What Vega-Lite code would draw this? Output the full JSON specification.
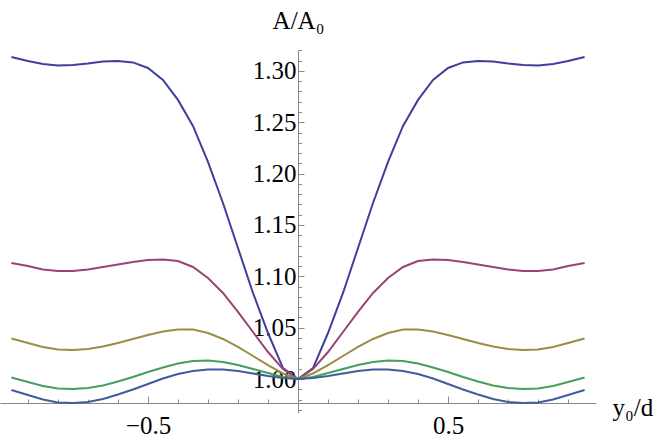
{
  "$schema": "https://vega.github.io/schema/vega-lite/v6.json",
  "width": 596,
  "height": 363,
  "autosize": {"type": "none"},
  "padding": {"left": 0, "top": 50, "right": 68, "bottom": 32},
  "background": "white",
  "config": {"view": {"stroke": null}, "axis": {"grid": false}},
  "data": {"values": [
    {"s":1,"x":-0.955,"y":1.3136},{"s":1,"x":-0.9,"y":1.3097},{"s":1,"x":-0.85,"y":1.3068},{"s":1,"x":-0.8,"y":1.3053},{"s":1,"x":-0.75,"y":1.3058},{"s":1,"x":-0.7,"y":1.3073},{"s":1,"x":-0.65,"y":1.3092},{"s":1,"x":-0.6,"y":1.3097},{"s":1,"x":-0.55,"y":1.3083},{"s":1,"x":-0.5,"y":1.3029},{"s":1,"x":-0.45,"y":1.2912},{"s":1,"x":-0.4,"y":1.2718},{"s":1,"x":-0.35,"y":1.2464},{"s":1,"x":-0.3,"y":1.2114},{"s":1,"x":-0.25,"y":1.1714},{"s":1,"x":-0.2,"y":1.1276},{"s":1,"x":-0.15,"y":1.0838},{"s":1,"x":-0.1,"y":1.0448},{"s":1,"x":-0.05,"y":1.0107},{"s":1,"x":0,"y":1.0},
    {"s":1,"x":0.05,"y":1.0107},{"s":1,"x":0.1,"y":1.0448},{"s":1,"x":0.15,"y":1.0838},{"s":1,"x":0.2,"y":1.1276},{"s":1,"x":0.25,"y":1.1714},{"s":1,"x":0.3,"y":1.2114},{"s":1,"x":0.35,"y":1.2464},{"s":1,"x":0.4,"y":1.2718},{"s":1,"x":0.45,"y":1.2912},{"s":1,"x":0.5,"y":1.3029},{"s":1,"x":0.55,"y":1.3083},{"s":1,"x":0.6,"y":1.3097},{"s":1,"x":0.65,"y":1.3092},{"s":1,"x":0.7,"y":1.3073},{"s":1,"x":0.75,"y":1.3058},{"s":1,"x":0.8,"y":1.3053},{"s":1,"x":0.85,"y":1.3068},{"s":1,"x":0.9,"y":1.3097},{"s":1,"x":0.955,"y":1.3136},
    {"s":2,"x":-0.955,"y":1.113},{"s":2,"x":-0.9,"y":1.1101},{"s":2,"x":-0.85,"y":1.1067},{"s":2,"x":-0.8,"y":1.1052},{"s":2,"x":-0.75,"y":1.1052},{"s":2,"x":-0.7,"y":1.1067},{"s":2,"x":-0.65,"y":1.1091},{"s":2,"x":-0.6,"y":1.1115},{"s":2,"x":-0.55,"y":1.114},{"s":2,"x":-0.5,"y":1.1159},{"s":2,"x":-0.45,"y":1.1164},{"s":2,"x":-0.4,"y":1.1149},{"s":2,"x":-0.35,"y":1.1091},{"s":2,"x":-0.3,"y":1.0984},{"s":2,"x":-0.25,"y":1.0838},{"s":2,"x":-0.2,"y":1.0653},{"s":2,"x":-0.15,"y":1.0458},{"s":2,"x":-0.1,"y":1.0263},{"s":2,"x":-0.05,"y":1.0097},{"s":2,"x":0,"y":1.0},
    {"s":2,"x":0.05,"y":1.0097},{"s":2,"x":0.1,"y":1.0263},{"s":2,"x":0.15,"y":1.0458},{"s":2,"x":0.2,"y":1.0653},{"s":2,"x":0.25,"y":1.0838},{"s":2,"x":0.3,"y":1.0984},{"s":2,"x":0.35,"y":1.1091},{"s":2,"x":0.4,"y":1.1149},{"s":2,"x":0.45,"y":1.1164},{"s":2,"x":0.5,"y":1.1159},{"s":2,"x":0.55,"y":1.114},{"s":2,"x":0.6,"y":1.1115},{"s":2,"x":0.65,"y":1.1091},{"s":2,"x":0.7,"y":1.1067},{"s":2,"x":0.75,"y":1.1052},{"s":2,"x":0.8,"y":1.1052},{"s":2,"x":0.85,"y":1.1067},{"s":2,"x":0.9,"y":1.1101},{"s":2,"x":0.955,"y":1.113},
    {"s":3,"x":-0.955,"y":1.0394},{"s":3,"x":-0.9,"y":1.0351},{"s":3,"x":-0.85,"y":1.0312},{"s":3,"x":-0.8,"y":1.0287},{"s":3,"x":-0.75,"y":1.0282},{"s":3,"x":-0.7,"y":1.0292},{"s":3,"x":-0.65,"y":1.0317},{"s":3,"x":-0.6,"y":1.0351},{"s":3,"x":-0.55,"y":1.039},{"s":3,"x":-0.5,"y":1.0429},{"s":3,"x":-0.45,"y":1.0463},{"s":3,"x":-0.4,"y":1.0482},{"s":3,"x":-0.35,"y":1.0482},{"s":3,"x":-0.3,"y":1.0448},{"s":3,"x":-0.25,"y":1.039},{"s":3,"x":-0.2,"y":1.0312},{"s":3,"x":-0.15,"y":1.0224},{"s":3,"x":-0.1,"y":1.0136},{"s":3,"x":-0.05,"y":1.0054},{"s":3,"x":0,"y":1.0},
    {"s":3,"x":0.05,"y":1.0054},{"s":3,"x":0.1,"y":1.0136},{"s":3,"x":0.15,"y":1.0224},{"s":3,"x":0.2,"y":1.0312},{"s":3,"x":0.25,"y":1.039},{"s":3,"x":0.3,"y":1.0448},{"s":3,"x":0.35,"y":1.0482},{"s":3,"x":0.4,"y":1.0482},{"s":3,"x":0.45,"y":1.0463},{"s":3,"x":0.5,"y":1.0429},{"s":3,"x":0.55,"y":1.039},{"s":3,"x":0.6,"y":1.0351},{"s":3,"x":0.65,"y":1.0317},{"s":3,"x":0.7,"y":1.0292},{"s":3,"x":0.75,"y":1.0282},{"s":3,"x":0.8,"y":1.0287},{"s":3,"x":0.85,"y":1.0312},{"s":3,"x":0.9,"y":1.0351},{"s":3,"x":0.955,"y":1.0394},
    {"s":4,"x":-0.955,"y":1.0015},{"s":4,"x":-0.9,"y":0.9971},{"s":4,"x":-0.85,"y":0.9932},{"s":4,"x":-0.8,"y":0.9907},{"s":4,"x":-0.75,"y":0.9903},{"s":4,"x":-0.7,"y":0.9912},{"s":4,"x":-0.65,"y":0.9937},{"s":4,"x":-0.6,"y":0.9976},{"s":4,"x":-0.55,"y":1.0019},{"s":4,"x":-0.5,"y":1.0068},{"s":4,"x":-0.45,"y":1.0112},{"s":4,"x":-0.4,"y":1.0151},{"s":4,"x":-0.35,"y":1.0175},{"s":4,"x":-0.3,"y":1.018},{"s":4,"x":-0.25,"y":1.0166},{"s":4,"x":-0.2,"y":1.0136},{"s":4,"x":-0.15,"y":1.0097},{"s":4,"x":-0.1,"y":1.0058},{"s":4,"x":-0.05,"y":1.0019},{"s":4,"x":0,"y":1.0},
    {"s":4,"x":0.05,"y":1.0019},{"s":4,"x":0.1,"y":1.0058},{"s":4,"x":0.15,"y":1.0097},{"s":4,"x":0.2,"y":1.0136},{"s":4,"x":0.25,"y":1.0166},{"s":4,"x":0.3,"y":1.018},{"s":4,"x":0.35,"y":1.0175},{"s":4,"x":0.4,"y":1.0151},{"s":4,"x":0.45,"y":1.0112},{"s":4,"x":0.5,"y":1.0068},{"s":4,"x":0.55,"y":1.0019},{"s":4,"x":0.6,"y":0.9976},{"s":4,"x":0.65,"y":0.9937},{"s":4,"x":0.7,"y":0.9912},{"s":4,"x":0.75,"y":0.9903},{"s":4,"x":0.8,"y":0.9907},{"s":4,"x":0.85,"y":0.9932},{"s":4,"x":0.9,"y":0.9971},{"s":4,"x":0.955,"y":1.0015},
    {"s":5,"x":-0.955,"y":0.9893},{"s":5,"x":-0.9,"y":0.9844},{"s":5,"x":-0.85,"y":0.98},{"s":5,"x":-0.8,"y":0.9771},{"s":5,"x":-0.75,"y":0.9766},{"s":5,"x":-0.7,"y":0.9776},{"s":5,"x":-0.65,"y":0.9805},{"s":5,"x":-0.6,"y":0.9849},{"s":5,"x":-0.55,"y":0.9898},{"s":5,"x":-0.5,"y":0.9951},{"s":5,"x":-0.45,"y":1.0005},{"s":5,"x":-0.4,"y":1.0049},{"s":5,"x":-0.35,"y":1.0078},{"s":5,"x":-0.3,"y":1.0093},{"s":5,"x":-0.25,"y":1.0093},{"s":5,"x":-0.2,"y":1.0078},{"s":5,"x":-0.15,"y":1.0054},{"s":5,"x":-0.1,"y":1.0029},{"s":5,"x":-0.05,"y":1.001},{"s":5,"x":0,"y":1.0},
    {"s":5,"x":0.05,"y":1.001},{"s":5,"x":0.1,"y":1.0029},{"s":5,"x":0.15,"y":1.0054},{"s":5,"x":0.2,"y":1.0078},{"s":5,"x":0.25,"y":1.0093},{"s":5,"x":0.3,"y":1.0093},{"s":5,"x":0.35,"y":1.0078},{"s":5,"x":0.4,"y":1.0049},{"s":5,"x":0.45,"y":1.0005},{"s":5,"x":0.5,"y":0.9951},{"s":5,"x":0.55,"y":0.9898},{"s":5,"x":0.6,"y":0.9849},{"s":5,"x":0.65,"y":0.9805},{"s":5,"x":0.7,"y":0.9776},{"s":5,"x":0.75,"y":0.9766},{"s":5,"x":0.8,"y":0.9771},{"s":5,"x":0.85,"y":0.98},{"s":5,"x":0.9,"y":0.9844},{"s":5,"x":0.955,"y":0.9893}
  ]},
  "mark": {"type": "line", "strokeWidth": 2, "clip": false},
  "encoding": {
    "x": {
      "field": "x", "type": "quantitative",
      "scale": {"domain": [-0.993, 0.993], "nice": false, "zero": false},
      "axis": {
        "orient": "bottom", "offset": -10,
        "values": [-0.9,-0.8,-0.7,-0.6,-0.5,-0.4,-0.3,-0.2,-0.1,0.1,0.2,0.3,0.4,0.5,0.6,0.7,0.8,0.9],
        "labelExpr": "abs(datum.value + 0.5) < 0.001 ? '−0.5' : (abs(datum.value - 0.5) < 0.001 ? '0.5' : '')",
        "tickSize": {"condition": {"test": "abs(abs(datum.value) - 0.5) < 0.001", "value": -7}, "value": -4},
        "tickColor": "#888888", "domainColor": "#888888", "tickWidth": 1, "domainWidth": 1,
        "labelFont": "Times New Roman, Liberation Serif, serif", "labelFontSize": 25, "labelColor": "black",
        "labelPadding": 17, "labelFlush": false, "labelOverlap": false,
        "title": "y₀/d", "titleX": 612, "titleY": 12, "titleAlign": "left", "titleBaseline": "alphabetic",
        "titleFont": "Times New Roman, Liberation Serif, serif", "titleFontSize": 25, "titleFontWeight": "normal", "titleColor": "black"
      }
    },
    "y": {
      "field": "y", "type": "quantitative",
      "scale": {"domain": [0.9669, 1.3204], "nice": false, "zero": false},
      "axis": {
        "orient": "left", "offset": -298,
        "values": [0.97,0.98,0.99,1.0,1.01,1.02,1.03,1.04,1.05,1.06,1.07,1.08,1.09,1.1,1.11,1.12,1.13,1.14,1.15,1.16,1.17,1.18,1.19,1.2,1.21,1.22,1.23,1.24,1.25,1.26,1.27,1.28,1.29,1.3,1.31,1.32],
        "labelExpr": "round(datum.value * 100) % 5 == 0 ? format(datum.value, '.2f') : ''",
        "tickSize": {"condition": {"test": "round(datum.value * 100) % 5 == 0", "value": -6}, "value": -3.5},
        "tickColor": "#888888", "domainColor": "#888888", "tickWidth": 1, "domainWidth": 1,
        "labelFont": "Times New Roman, Liberation Serif, serif", "labelFontSize": 25, "labelColor": "black",
        "labelPadding": 8, "labelFlush": false, "labelOverlap": false,
        "title": "A/A₀", "titleAngle": 0, "titleX": 0, "titleY": -22, "titleAlign": "center", "titleBaseline": "alphabetic",
        "titleFont": "Times New Roman, Liberation Serif, serif", "titleFontSize": 25, "titleFontWeight": "normal", "titleColor": "black"
      }
    },
    "color": {
      "field": "s", "type": "nominal",
      "scale": {"domain": [1, 2, 3, 4, 5], "range": ["#3f3f9c", "#9b4275", "#9b8d42", "#43a05a", "#3f5c9c"]},
      "legend": null
    }
  }
}
